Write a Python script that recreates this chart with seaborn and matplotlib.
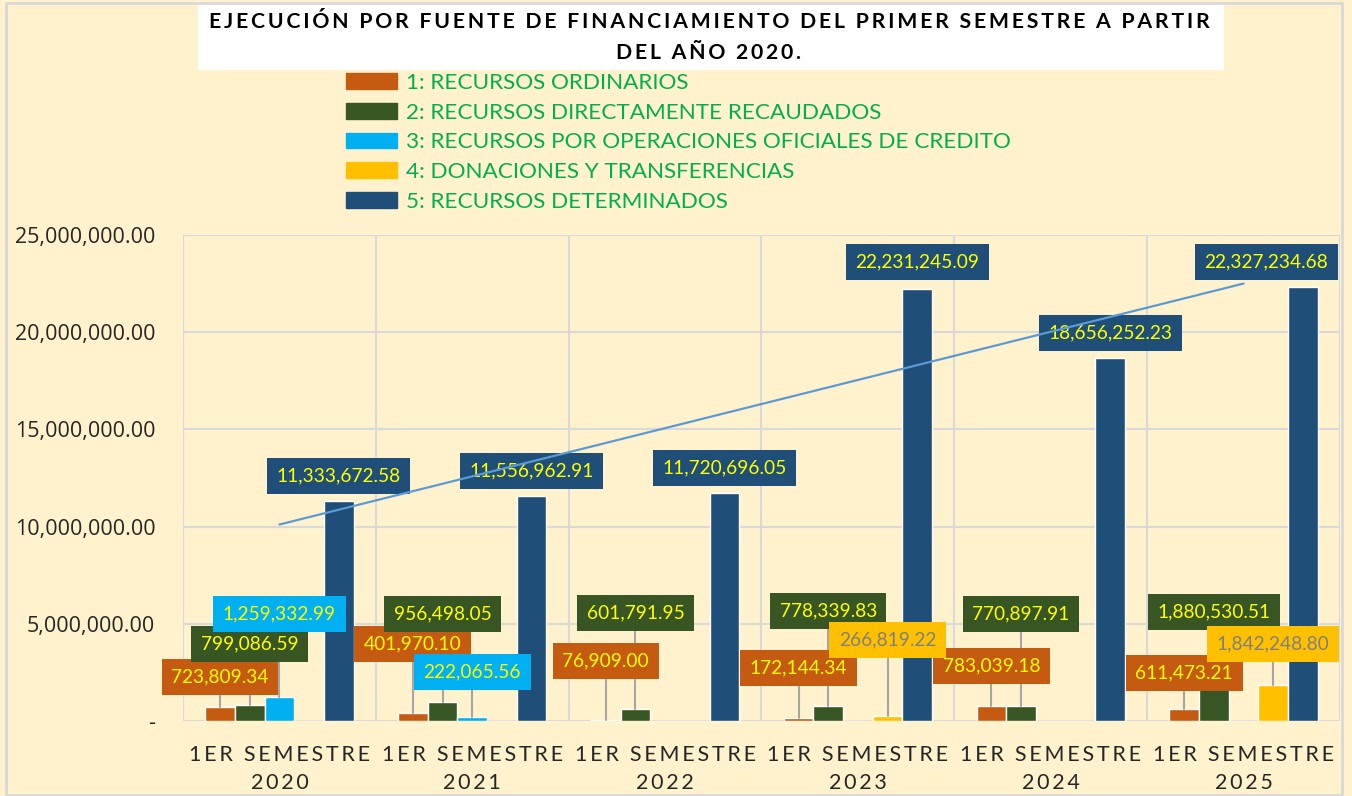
import matplotlib.patches as mpatches
import matplotlib.pyplot as plt
import numpy as np
import pandas as pd
import seaborn as sns
from matplotlib.ticker import FuncFormatter, MultipleLocator

# --- DATA ---
years = ["2020", "2021", "2022", "2023", "2024", "2025"]
series_names = [
    "1: RECURSOS ORDINARIOS",
    "2: RECURSOS DIRECTAMENTE RECAUDADOS",
    "3: RECURSOS POR OPERACIONES OFICIALES DE CREDITO",
    "4: DONACIONES Y TRANSFERENCIAS",
    "5: RECURSOS DETERMINADOS",
]
rec_ordinarios = [723809.34, 401970.10, 76909.00, 172144.34, 783039.18, 611473.21]
rec_directos = [799086.59, 956498.05, 601791.95, 778339.83, 770897.91, 1880530.51]
rec_credito = [1259332.99, 222065.56, 0, 0, 0, 0]
donaciones = [0, 0, 0, 266819.22, 0, 1842248.80]
determinados = [11333672.58, 11556962.91, 11720696.05, 22231245.09, 18656252.23, 22327234.68]

# --- LAYOUT: height (in millions) of each data-label box centre, as moved by hand ---
label_y = [
    [2.26, 3.96, 3.09, 2.73, 2.83, 2.47],
    [3.96, 5.50, 5.56, 5.66, 5.50, 5.61],
    [5.50, 2.52, None, None, None, None],
    [None, None, None, 4.17, None, 3.96],
    [12.60, 12.86, 13.01, 23.61, 19.96, 23.61],
]
label_dx = {(4, 5): -0.19}  # last navy label nudged left to stay inside

COLORS = ["#C55A11", "#375623", "#00B0F0", "#FFC000", "#1F4E79"]
TEXT_COLORS = ["#FFFF00", "#FFFF00", "#FFFF00", "#808080", "#FFFF00"]
BG = "#FFF2CC"
GRID = "#D9D9D9"
FONT = ["Lato", "DejaVu Sans"]

W, H = 1352, 796

values = [rec_ordinarios, rec_directos, rec_credito, donaciones, determinados]
df = pd.DataFrame(
    {
        "periodo": years * len(series_names),
        "fuente": np.repeat(series_names, len(years)),
        "monto": np.concatenate(values),
    }
)


def spaced(text, sep="\u2009"):
    """Fake Excel letter spacing by putting thin spaces between characters."""
    return "\n".join(sep.join(line) for line in text.split("\n"))


sns.set_style("white")
plt.rcParams["font.family"] = FONT

fig = plt.figure(figsize=(W / 100, H / 100), dpi=100, facecolor=BG)
ax = fig.add_axes([183 / W, 1 - 721 / H, (1340 - 183) / W, (721 - 235) / H])
ax.set_facecolor(BG)

sns.barplot(
    data=df,
    x="periodo",
    y="monto",
    hue="fuente",
    hue_order=series_names,
    palette=COLORS,
    width=0.77,
    gap=0,
    saturation=1,
    legend=False,
    ax=ax,
    zorder=3,
)

n = len(series_names)
bw = 0.77 / n

# leader lines + data labels
for k in range(n):
    for i in range(len(years)):
        ly = label_y[k][i]
        if ly is None or values[k][i] == 0:
            continue
        xc = i + (k - (n - 1) / 2) * bw
        ly = ly * 1e6
        if k < 4:
            ax.plot([xc, xc], [values[k][i], ly], color="#A6A6A6", lw=1.5, zorder=4)
        ax.text(
            xc + label_dx.get((k, i), 0),
            ly,
            f"{values[k][i]:,.2f}",
            ha="center",
            va="center",
            fontsize=13.8,
            color=TEXT_COLORS[k],
            zorder=5,
            bbox=dict(boxstyle="square,pad=0.5", facecolor=COLORS[k], edgecolor="none"),
        )

# linear trend of series 5
idx = np.arange(len(years))
slope, intercept = np.polyfit(idx, determinados, 1)
ax.plot(idx, slope * idx + intercept, color="#5B9BD5", lw=1.6, zorder=6)

# axes styling
ax.set_xlim(-0.5, len(years) - 0.5)
ax.set_ylim(0, 25e6)
ax.yaxis.set_major_locator(MultipleLocator(5e6))
ax.yaxis.set_major_formatter(FuncFormatter(lambda v, p: "-" if v == 0 else f"{v:,.2f}"))
ax.xaxis.set_minor_locator(MultipleLocator(1, offset=0.5))
ax.grid(axis="y", color=GRID, lw=1.5, zorder=0)
ax.grid(axis="x", which="minor", color=GRID, lw=1.5, zorder=0)
ax.set_axisbelow(True)
for s in ax.spines.values():
    s.set_visible(False)
ax.axvline(-0.5, color=GRID, lw=1.5, zorder=0)
ax.axvline(len(years) - 0.5, color=GRID, lw=1.5, zorder=0)
ax.axhline(25e6, color=GRID, lw=1.5, zorder=0)
ax.set_xticks(idx)
ax.set_xticklabels([spaced(f"1ER SEMESTRE\n{y}") for y in years], fontsize=15.5, linespacing=1.5)
ax.tick_params(axis="x", length=0, pad=17, which="both")
ax.tick_params(axis="y", length=0, pad=20, labelsize=15.5)
for t in ax.get_yticklabels():
    t.set_family(["Open Sans", "DejaVu Sans"])
ax.set_xlabel("")
ax.set_ylabel("")

# legend
handles = [mpatches.Patch(color=c, label=s) for c, s in zip(COLORS, series_names)]
fig.legend(
    handles=handles,
    loc="upper left",
    bbox_to_anchor=(346 / W, 1 - 73 / H),
    frameon=False,
    fontsize=16.2,
    labelcolor="#00B050",
    handlelength=2.27,
    handleheight=0.68,
    handletextpad=0.4,
    labelspacing=0.43,
    borderpad=0,
    borderaxespad=0,
)

# title box
fig.add_artist(
    mpatches.Rectangle(
        (198 / W, 1 - 70 / H), (1224 - 198) / W, 65 / H,
        transform=fig.transFigure, facecolor="white", edgecolor="none", zorder=1,
    )
)
title_lines = [
    "EJECUCIÓN POR FUENTE DE FINANCIAMIENTO DEL PRIMER SEMESTRE A PARTIR",
    "DEL AÑO 2020.",
]
for line, yp in zip(title_lines, [22, 53]):
    fig.text(
        709 / W, 1 - yp / H, spaced(line, "\u200a\u200a"),
        ha="center", va="center", fontsize=15.3, fontweight="bold", color="black", zorder=2,
    )

# chart border
fig.add_artist(
    mpatches.Rectangle(
        (6 / W, 1 / H), (1342 - 6) / W, (793 - 1) / H,
        transform=fig.transFigure, facecolor="none", edgecolor=GRID, lw=2,
    )
)

plt.savefig("out.png", dpi=100, facecolor=BG)
